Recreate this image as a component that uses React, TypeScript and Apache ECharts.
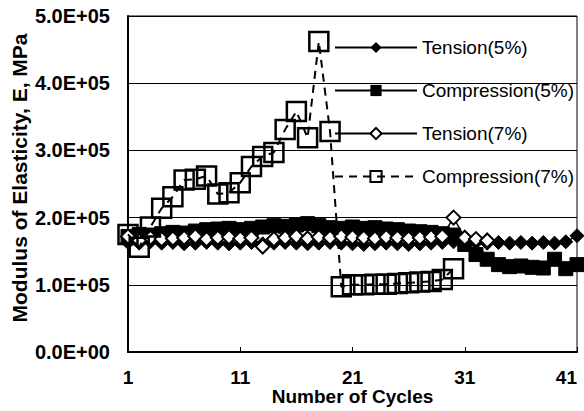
import React, { useEffect, useRef } from "react";
import * as echarts from "echarts";

const cycles: string[] = Array.from({ length: 41 }, (_, i) => String(i + 1));

const yTickLabels = ["0.0E+00", "1.0E+05", "2.0E+05", "3.0E+05", "4.0E+05", "5.0E+05"];

const tension5 = [
  1.63, 1.62, 1.64, 1.62, 1.63, 1.61, 1.62, 1.63, 1.62, 1.61, 1.62, 1.63, 1.61, 1.62, 1.63, 1.62, 1.61,
  1.62, 1.63, 1.62, 1.61, 1.6, 1.61, 1.62, 1.61, 1.6, 1.61, 1.62, 1.63, 1.64, 1.62, 1.63, 1.62, 1.63,
  1.62, 1.63, 1.62, 1.63, 1.62, 1.64, 1.73,
].map((v) => v * 1e5);

const compression5 = [
  1.72, 1.75, 1.74, 1.76, 1.78, 1.77, 1.8, 1.82, 1.83, 1.84, 1.82, 1.84, 1.86, 1.88, 1.87, 1.89, 1.91,
  1.88, 1.85, 1.84, 1.86, 1.84, 1.85, 1.83, 1.82, 1.8, 1.79, 1.78, 1.76, 1.74, 1.6, 1.45, 1.38, 1.3,
  1.27, 1.28, 1.26, 1.25, 1.38, 1.24, 1.3,
].map((v) => v * 1e5);

const tension7 = [
  1.72, 1.66, 1.7, 1.68, 1.69, 1.7, 1.72, 1.68, 1.7, 1.71, 1.69, 1.7, 1.57, 1.68, 1.7, 1.72, 1.69, 1.71,
  1.7, 1.72, 1.71, 1.7, 1.69, 1.71, 1.7, 1.69, 1.7, 1.71, 1.72, 2.0, 1.7, 1.68, 1.66,
].map((v) => v * 1e5);

const compression7 = [
  1.75, 1.56, 1.86, 2.14, 2.31, 2.56, 2.57, 2.62, 2.35, 2.37, 2.52, 2.76, 2.91, 2.97, 3.31, 3.58, 3.19,
  4.62, 3.28, 0.97, 1.0, 1.0, 1.01, 1.01, 1.02, 1.03, 1.04, 1.05, 1.08, 1.24,
].map((v) => v * 1e5);

const FONT = "'Liberation Sans', Arial, sans-serif";

export default function App() {
  const ref = useRef<HTMLDivElement>(null);
  useEffect(() => {
    if (!ref.current) return;
    const chart = echarts.init(ref.current, null, { renderer: "svg" });
    chart.setOption({
      animation: false,
      backgroundColor: "#ffffff",
      grid: {
        left: 128,
        right: 7,
        top: 16,
        bottom: 59,
        containLabel: false,
        outerBoundsMode: "none",
        show: true,
        borderColor: "#000",
        borderWidth: 1,
      },
      legend: {
        orient: "vertical",
        left: 329,
        top: 33,
        itemWidth: 82,
        itemHeight: 14,
        itemGap: 24,
        selectedMode: false,
        textStyle: { fontFamily: FONT, fontSize: 19, color: "#000", lineHeight: 19 },
        data: ["Tension(5%)", "Compression(5%)", "Tension(7%)", "Compression(7%)"],
      },
      xAxis: {
        type: "category",
        data: cycles,
        boundaryGap: false,
        name: "Number of Cycles",
        nameLocation: "middle",
        nameGap: 35,
        nameMoveOverlap: false,
        nameTextStyle: { fontFamily: FONT, fontSize: 19, fontWeight: "bold", color: "#000", lineHeight: 19 },
        axisLine: { lineStyle: { color: "#000", width: 2 } },
        axisTick: { show: true, inside: true, interval: 9, length: 5, lineStyle: { color: "#000" } },
        axisLabel: {
          interval: 9,
          margin: 17,
          alignMaxLabel: "right",
          fontFamily: FONT,
          fontSize: 19,
          lineHeight: 17,
          fontWeight: "bold",
          color: "#000",
        },
        splitLine: { show: false },
      },
      yAxis: {
        type: "value",
        min: 0,
        max: 500000,
        interval: 100000,
        name: "Modulus of Elasticity, E, MPa",
        nameLocation: "middle",
        nameGap: 98,
        nameMoveOverlap: false,
        nameTextStyle: {
          fontFamily: FONT,
          fontSize: 21,
          fontWeight: "bold",
          color: "#000",
          padding: [0, 0, 0, 12],
        },
        axisLine: { show: true, lineStyle: { color: "#000", width: 2 } },
        axisTick: { show: false },
        axisLabel: {
          margin: 18,
          fontFamily: FONT,
          fontSize: 20,
          fontWeight: "bold",
          color: "#000",
          formatter: (v: number) => yTickLabels[Math.round(v / 100000)],
        },
        splitLine: { show: true, lineStyle: { color: "#000", width: 1 } },
      },
      series: [
        {
          name: "Tension(5%)",
          type: "line",
          data: tension5,
          symbol: "diamond",
          symbolSize: 14,
          showAllSymbol: true,
          lineStyle: { color: "#000", width: 1.5 },
          itemStyle: { color: "#000", borderColor: "#000" },
          z: 2,
        },
        {
          name: "Compression(5%)",
          type: "line",
          data: compression5,
          symbol: "rect",
          symbolSize: 14,
          showAllSymbol: true,
          lineStyle: { color: "#000", width: 1.5 },
          itemStyle: { color: "#000", borderColor: "#000" },
          z: 3,
        },
        {
          name: "Tension(7%)",
          type: "line",
          data: tension7,
          symbol: "diamond",
          symbolSize: 14,
          showAllSymbol: true,
          lineStyle: { color: "#000", width: 1.5 },
          itemStyle: { color: "#fff", borderColor: "#000", borderWidth: 2 },
          z: 4,
        },
        {
          name: "Compression(7%)",
          type: "line",
          data: compression7,
          symbol: "rect",
          symbolSize: 19,
          showAllSymbol: true,
          lineStyle: { color: "#000", width: 2, type: [8, 6] },
          itemStyle: { color: "rgba(255,255,255,0)", borderColor: "#000", borderWidth: 2.5 },
          z: 5,
        },
      ],
    });
    return () => chart.dispose();
  }, []);
  return <div ref={ref} style={{ width: 584, height: 411, position: "absolute", left: 0, top: 0 }} />;
}
